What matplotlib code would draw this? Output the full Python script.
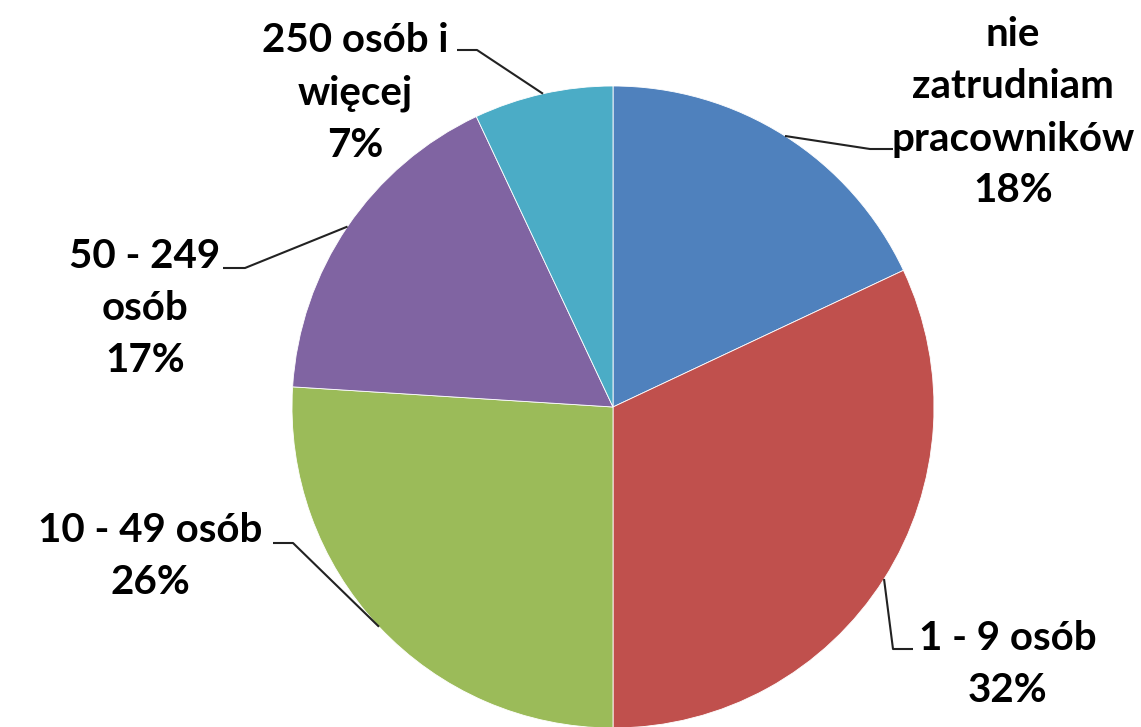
import numpy as np
import matplotlib
matplotlib.use("Agg")
import matplotlib.pyplot as plt

W, H = 1141, 727

categories = ["nie\nzatrudniam\npracowników", "1 - 9 osób", "10 - 49 osób",
              "50 - 249\nosób", "250 osób i\nwięcej"]
shares = [18, 32, 26, 17, 7]
colors = ["#4F81BD", "#C0504D", "#9BBB59", "#8064A2", "#4BACC6"]

# label layout (image pixel coords, y down)
label_xy = [(1013, 113), (1008, 664), (150, 556), (145, 309), (355, 93)]
elbows = [((870, 149), (893, 149)), ((893, 649), (913, 649)),
          ((293, 543), (273, 543)), ((245, 268), (223, 268)),
          ((477, 50), (457, 50))]

CX, CY, R = 613, 407, 321

plt.rcParams["font.family"] = ["Lato", "DejaVu Sans"]
fig = plt.figure(figsize=(W / 100, H / 100), dpi=100)
ax = fig.add_axes([0, 0, 1, 1])
ax.axis("off")


def fy(y):
    return H - y


wedges, _ = ax.pie(shares, colors=colors, startangle=90, counterclock=False,
                   center=(CX, fy(CY)), radius=R,
                   wedgeprops=dict(linewidth=0.6, edgecolor="white"))
ax.set_xlim(0, W)
ax.set_ylim(0, H)
ax.set_aspect("equal")

for w, cat, val, (lx, ly), (e1, e2) in zip(wedges, categories, shares, label_xy, elbows):
    mid = np.deg2rad((w.theta1 + w.theta2) / 2)
    sx = CX + R * np.cos(mid)
    sy = fy(CY) + R * np.sin(mid)
    ax.plot([sx, e1[0], e2[0]], [sy, fy(e1[1]), fy(e2[1])],
            color="#222222", lw=1.5, solid_capstyle="butt", clip_on=False)
    ax.text(lx, fy(ly), f"{cat}\n{val}%", ha="center", va="center",
            fontsize=29, fontweight="bold", linespacing=1.5, color="black")

fig.savefig("out.png", dpi=100, facecolor="white")
